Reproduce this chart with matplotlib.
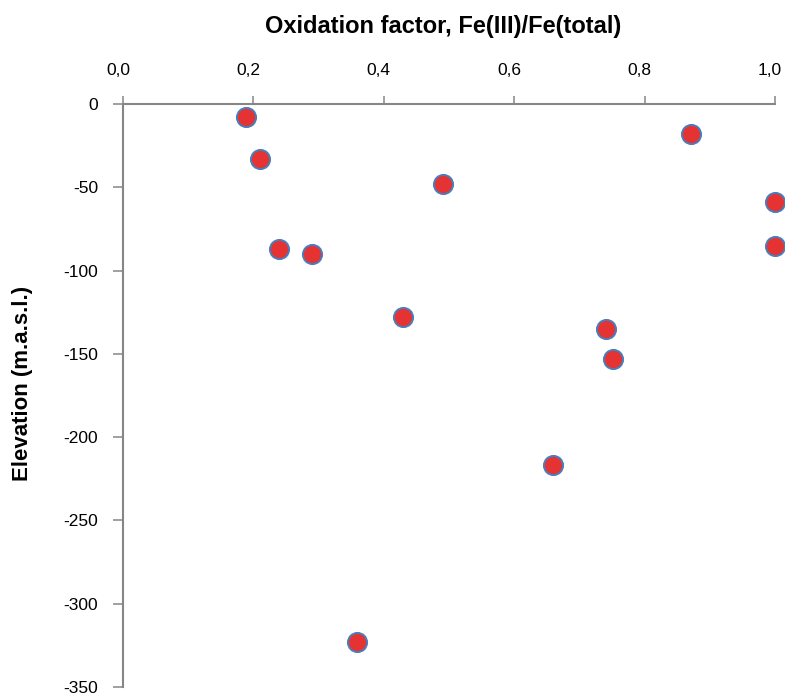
import matplotlib
matplotlib.use('Agg')
import matplotlib.pyplot as plt
from matplotlib.transforms import ScaledTranslation

# Fe(III)/Fe(total) against sample elevation
oxidation = [0.189, 0.210, 0.240, 0.290, 0.491, 0.429, 0.359, 0.660,
             0.741, 0.751, 0.871, 1.000, 1.000]
elevation = [-8, -33, -87, -90, -48, -128, -323, -217,
             -135, -153, -18, -59, -85]

x_ticks = [0.0, 0.2, 0.4, 0.6, 0.8, 1.0]
x_tick_labels = ['0,0', '0,2', '0,4', '0,6', '0,8', '1,0']
y_ticks = [0, -50, -100, -150, -200, -250, -300, -350]
y_tick_labels = ['0', '-50', '-100', '-150', '-200', '-250', '-300', '-350']

plt.rcParams['font.family'] = ['Liberation Sans', 'DejaVu Sans']

axis_grey = '#868686'

fig = plt.figure(figsize=(7.85, 6.98), dpi=100)
W, H = 785, 698
# axes box in pixel terms: left 123, right 775, top 104, bottom 687
ax = fig.add_axes([123 / W, 1 - 687 / H, (775 - 123) / W, (687 - 104) / H])

ax.scatter(oxidation, elevation, s=190, facecolor='#e53232',
           edgecolor='#4a7ebb', linewidth=1.4, zorder=3, clip_on=False)

ax.set_xlim(0, 1.0)
ax.set_ylim(-350, 0)

ax.xaxis.tick_top()
ax.set_xticks(x_ticks)
ax.set_xticklabels(x_tick_labels)
ax.set_yticks(y_ticks)
ax.set_yticklabels(y_tick_labels)

ax.tick_params(axis='x', direction='out', length=6, width=1.1,
               color=axis_grey, pad=13, labelsize=12.5)
ax.tick_params(axis='y', direction='out', length=7, width=1.1,
               color=axis_grey, pad=11, labelsize=12.5)

# the original sits its top labels a little left of the ticks
shift = ScaledTranslation(-5 / 100, 0, fig.dpi_scale_trans)
for lbl in ax.get_xticklabels():
    lbl.set_transform(lbl.get_transform() + shift)

for side in ['right', 'bottom']:
    ax.spines[side].set_visible(False)
for side in ['left', 'top']:
    ax.spines[side].set_color(axis_grey)
    ax.spines[side].set_linewidth(1.5)

fig.text(443 / W, 1 - 26 / H, 'Oxidation factor, Fe(III)/Fe(total)',
         ha='center', va='center', fontsize=17, fontweight='bold')
fig.text(23 / W, 1 - 383 / H, 'Elevation (m.a.s.l.)', rotation=90,
         ha='center', va='center', fontsize=16, fontweight='bold')

fig.savefig('out.png', dpi=100)
plt.close(fig)
